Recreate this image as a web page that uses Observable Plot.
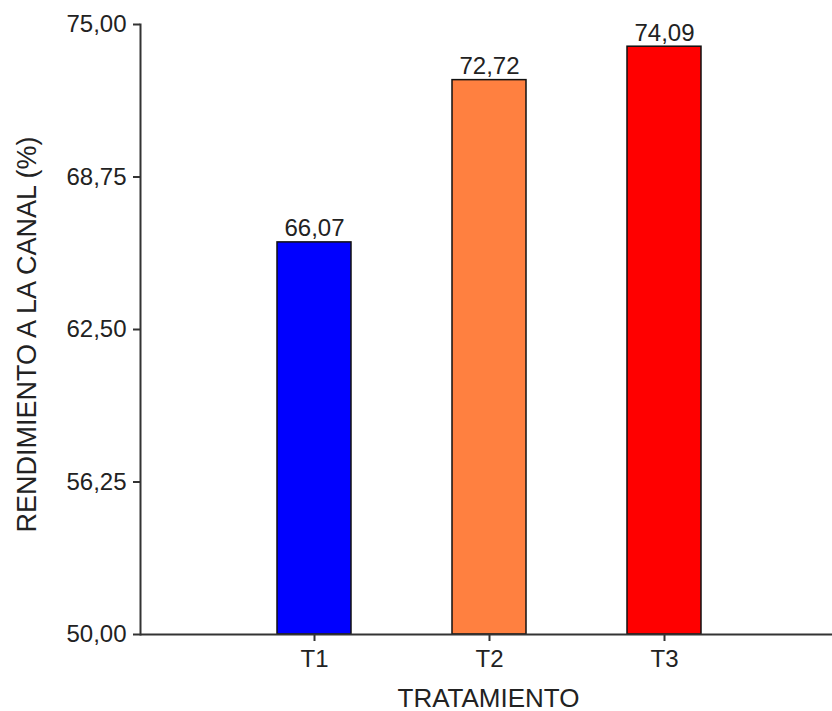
<!DOCTYPE html>
<html>
<head>
<meta charset="utf-8">
<script src="https://cdn.jsdelivr.net/npm/d3@7"></script>
<script src="https://cdn.jsdelivr.net/npm/@observablehq/plot@0.6"></script>
<style>
  html, body { margin: 0; padding: 0; background: #fff; }
  svg { font-family: "Liberation Sans", Arial, sans-serif; }
</style>
</head>
<body>
<div id="chart"></div>
<script>
const categories = ["T1", "T2", "T3"];
const values = [66.07, 72.72, 74.09];
const valueLabels = ["66,07", "72,72", "74,09"];
const barColors = ["#0000ff", "#ff8040", "#ff0000"];
const yTicks = [50, 56.25, 62.5, 68.75, 75];
const yTickLabels = ["50,00", "56,25", "62,50", "68,75", "75,00"];
const xTitle = "TRATAMIENTO";
const yTitle = "RENDIMIENTO A LA CANAL (%)";

const data = categories.map((c, i) => ({cat: c, value: values[i], label: valueLabels[i]}));

const chart = Plot.plot({
  width: 832,
  height: 711,
  marginLeft: 140,
  marginRight: 0,
  marginTop: 24,
  marginBottom: 77,
  style: {fontFamily: "'Liberation Sans', Arial, sans-serif", background: "#fff", color: "#222"},
  x: {type: "band", domain: categories, range: [226.5, 751.5], paddingInner: 0.577, paddingOuter: 0.2885, align: 0.5},
  y: {domain: [50, 75]},
  color: {domain: categories, range: barColors},
  marks: [
    Plot.barY(data, {x: "cat", y1: 50, y2: "value", fill: "cat", stroke: "#111", strokeWidth: 1.5}),
    Plot.text(data, {x: "cat", y: "value", text: "label", dy: -6, lineAnchor: "bottom", fontSize: 24, fill: "#222"}),
    Plot.ruleY([50], {stroke: "#333", strokeWidth: 2}),
    Plot.frame({anchor: "left", stroke: "#333", strokeWidth: 2}),
    Plot.axisY({ticks: yTicks, tickFormat: (d) => yTickLabels[yTicks.indexOf(d)], tickSize: 7, tickPadding: 7, fontSize: 24, label: null, stroke: "#333", strokeWidth: 2}),
    Plot.axisX({tickSize: 7, tickPadding: 8, fontSize: 24, label: null, stroke: "#333", strokeWidth: 2}),
    Plot.text([xTitle], {frameAnchor: "bottom", dx: 2, dy: 72, lineAnchor: "bottom", fontSize: 26, fill: "#222"}),
    Plot.text([yTitle], {frameAnchor: "left", textAnchor: "middle", rotate: -90, dx: -105, dy: 5, lineAnchor: "bottom", fontSize: 27, fill: "#222"})
  ]
});
document.getElementById("chart").appendChild(chart);
</script>
</body>
</html>
